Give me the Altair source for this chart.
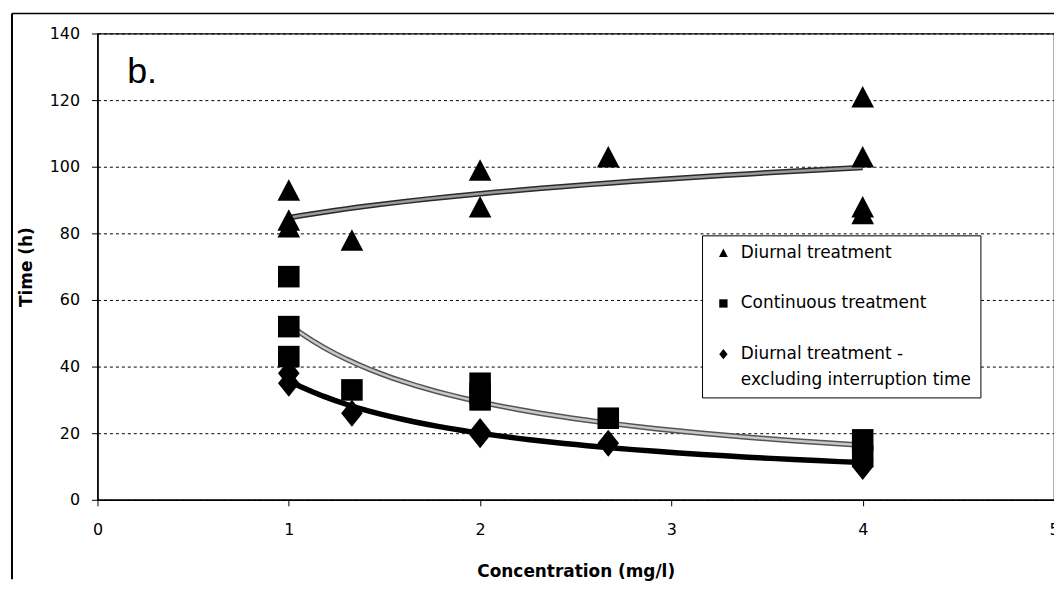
import altair as alt
import pandas as pd

# ---- data ----
series_names = ["Diurnal treatment", "Continuous treatment",
                "Diurnal treatment - excluding interruption time"]

diurnal_x = [1, 1, 1, 1.33, 2, 2, 2.67, 4, 4, 4, 4]
diurnal_y = [93, 84, 82, 78, 99, 88, 103, 121, 103, 88, 86]

continuous_x = [1, 1, 1, 1.33, 2, 2, 2, 2.67, 4, 4]
continuous_y = [67, 52, 43, 33, 35, 32, 30, 24.5, 18, 13]

excl_x = [1, 1, 1.33, 2, 2, 2.67, 4, 4]
excl_y = [38, 35, 26, 20.5, 19.5, 17, 12, 10]

x_ticks = [0, 1, 2, 3, 4, 5]
y_ticks = [0, 20, 40, 60, 80, 100, 120, 140]

# trend line styles (outer, inner colour) per series
trend_outer = ["#2a2a2a", "#555555", "#000000"]
trend_inner = ["#9a9a9a", "#c8c8c8", "#000000"]

# marker shapes (unit-square symbol paths)
marker_shapes = ["M0,-1L1.05,1L-1.05,1Z",
                 "square",
                 "M0,-1.25L1,0L0,1.25L-1,0Z"]

rows = []
for name, xs, ys in zip(series_names,
                        [diurnal_x, continuous_x, excl_x],
                        [diurnal_y, continuous_y, excl_y]):
    for a, b in zip(xs, ys):
        rows.append({"series": name, "x": a, "y": b})
df = pd.DataFrame(rows)

FONT = "DejaVu Sans"

x_enc = alt.X("x:Q", scale=alt.Scale(domain=[0, 5], nice=False),
              axis=alt.Axis(values=x_ticks, format="d",
                            title="Concentration (mg/l)",
                            grid=False, tickSize=6, labelPadding=16,
                            titlePadding=26, labelFlush=False,
                            labelFont=FONT, labelFontSize=16,
                            titleFont=FONT, titleFontSize=17))
y_enc = alt.Y("y:Q", scale=alt.Scale(domain=[0, 140], nice=False),
              axis=alt.Axis(values=y_ticks, format="d", title="Time (h)",
                            grid=True, tickSize=6, labelPadding=12,
                            titlePadding=14, gridDash=[3, 3],
                            gridColor="black", gridWidth=1,
                            labelFont=FONT, labelFontSize=16,
                            titleFont=FONT, titleFontSize=17))

base = alt.Chart(df)

line_layers = []
for name, c_out, c_in in zip(series_names, trend_outer, trend_inner):
    reg = base.transform_filter(
        alt.datum.series == name
    ).transform_regression("x", "y", method="pow", extent=[1, 4])
    line_layers.append(reg.mark_line(strokeWidth=5.5, color=c_out).encode(
        x=x_enc if not line_layers else "x:Q",
        y=y_enc if not line_layers else "y:Q"))
    line_layers.append(reg.mark_line(strokeWidth=2.5, color=c_in).encode(
        x="x:Q", y="y:Q"))

label_expr = ("datum.label == 'Diurnal treatment - excluding interruption time'"
              " ? ['Diurnal treatment -', 'excluding interruption time']"
              " : datum.label")

points = base.mark_point(filled=True, opacity=1, color="black",
                         size=470).encode(
    x="x:Q", y="y:Q",
    shape=alt.Shape("series:N",
                    scale=alt.Scale(domain=series_names, range=marker_shapes),
                    legend=alt.Legend(title=None, orient="none",
                                      legendX=608, legendY=203,
                                      fillColor="white", strokeColor="black",
                                      padding=9, symbolSize=70,
                                      symbolOffset=4,
                                      symbolFillColor="black",
                                      symbolStrokeColor="black",
                                      labelFont=FONT, labelFontSize=17,
                                      labelColor="black",
                                      labelExpr=label_expr, labelOffset=9,
                                      labelLimit=400, rowPadding=33)),
)

label_df = pd.DataFrame({"x": [0.155], "y": [125], "t": ["b."]})
label = alt.Chart(label_df).mark_text(
    font="Liberation Sans", fontSize=36, align="left", baseline="alphabetic",
    color="black"
).encode(x="x:Q", y="y:Q", text="t:N")

frame_df = pd.DataFrame({"k": [0]})
frame_left = alt.Chart(frame_df).mark_rule(color="black", strokeWidth=2).encode(
    x=alt.value(-86), y=alt.value(-20), y2=alt.value(549))
frame_top = alt.Chart(frame_df).mark_rule(color="black", strokeWidth=1.5).encode(
    x=alt.value(-86), x2=alt.value(962), y=alt.value(-20))

chart = alt.layer(
    *line_layers, points, label, frame_left, frame_top
).properties(
    width=962, height=469,
    autosize=alt.AutoSizeParams(type="none"),
    padding={"left": 90, "top": 24, "right": 0, "bottom": 80},
).configure(
    style={"guide-label": {"lineHeight": 26}},
).configure_view(
    stroke="black", strokeWidth=1.2
).configure_axis(
    labelColor="black", titleFontWeight="bold",
    titleColor="black", domainColor="black", domainWidth=1.5,
    tickColor="black", tickWidth=1,
)

chart.save("out.html", embed_options={"renderer": "svg", "actions": False})
